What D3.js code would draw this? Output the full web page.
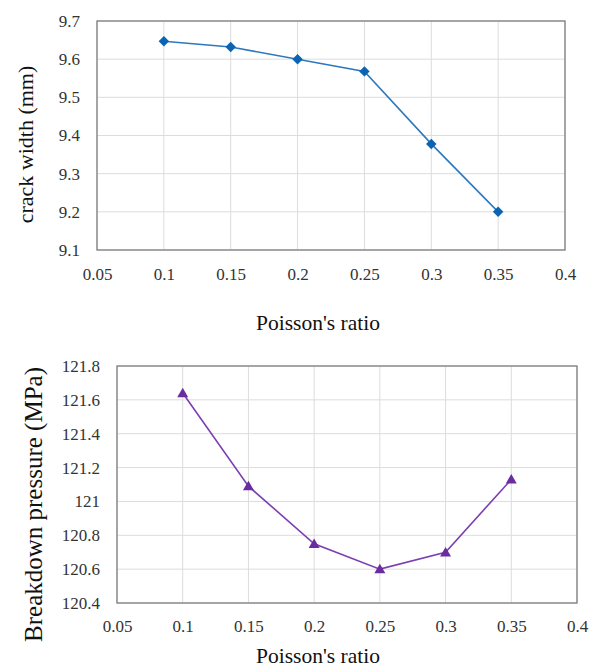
<!DOCTYPE html>
<html><head><meta charset="utf-8">
<script src="https://cdn.jsdelivr.net/npm/d3@7"></script>
<style>
body{margin:0;background:#fff}
svg{display:block}
svg text{font-family:"Liberation Serif","Times New Roman",serif}
</style>
</head><body>
<svg id="c" width="589" height="670"></svg>
<script>
const poisson = [0.1, 0.15, 0.2, 0.25, 0.3, 0.35];
const crackWidth = [9.647, 9.632, 9.6, 9.568, 9.378, 9.2];
const breakdown = [121.64, 121.09, 120.75, 120.60, 120.70, 121.13];
const xTicks = [0.05, 0.1, 0.15, 0.2, 0.25, 0.3, 0.35, 0.4];
const yTicksTop = [9.1, 9.2, 9.3, 9.4, 9.5, 9.6, 9.7];
const yTicksBot = [120.4, 120.6, 120.8, 121, 121.2, 121.4, 121.6, 121.8];

const svg = d3.select("#c");
const serifFace = "Liberation Serif";

function panel(o) {
  const x = d3.scaleLinear().domain([0.05, 0.4]).range([o.left, o.right]);
  const y = d3.scaleLinear().domain(o.yDomain).range([o.bottom, o.top]);
  const g = svg.append("g");
  g.append("g").selectAll("line").data(o.yTicks).join("line")
    .attr("x1", o.left).attr("x2", o.right)
    .attr("y1", d => y(d)).attr("y2", d => y(d))
    .attr("stroke", "#dcdcdc").attr("stroke-width", 1);
  g.append("g").selectAll("line").data(xTicks).join("line")
    .attr("y1", o.top).attr("y2", o.bottom)
    .attr("x1", d => x(d)).attr("x2", d => x(d))
    .attr("stroke", "#dcdcdc").attr("stroke-width", 1);
  g.append("rect").attr("x", o.left).attr("y", o.top)
    .attr("width", o.right - o.left).attr("height", o.bottom - o.top)
    .attr("fill", "none").attr("stroke", "#7f7f7f").attr("stroke-width", 1.3);
  const xa = g.append("g").attr("transform", `translate(0,${o.bottom})`)
    .call(d3.axisBottom(x).tickValues(xTicks).tickSize(0).tickPadding(o.xPad).tickFormat(d3.format("")));
  const ya = g.append("g").attr("transform", `translate(${o.left},0)`)
    .call(d3.axisLeft(y).tickValues(o.yTicks).tickSize(0).tickPadding(o.yPad).tickFormat(d3.format("")));
  [xa, ya].forEach(a => {
    a.attr("font-family", serifFace).attr("font-size", 17);
    a.select(".domain").remove();
    a.selectAll("text").attr("font-family", serifFace).attr("fill", "#333");
  });
  const data = poisson.map((p, i) => [p, o.values[i]]);
  g.append("path").datum(data)
    .attr("d", d3.line().x(d => x(d[0])).y(d => y(d[1])))
    .attr("fill", "none").attr("stroke", o.lineColor).attr("stroke-width", 1.6);
  g.append("g").selectAll("path").data(data).join("path")
    .attr("transform", d => `translate(${x(d[0])},${y(d[1]) + o.symDy})`)
    .attr("d", d3.symbol().type(o.symbol).size(o.symSize))
    .attr("fill", o.markColor);
  svg.append("text").attr("x", (o.left + o.right) / 2 + o.xtDx).attr("y", o.xTitleY)
    .attr("text-anchor", "middle").attr("font-family", serifFace).attr("font-size", 21.5)
    .attr("fill", "#111").text("Poisson's ratio");
  svg.append("text").attr("transform", `translate(${o.yTitleX},${(o.top + o.bottom) / 2 + o.ytDy}) rotate(-90)`)
    .attr("text-anchor", "middle").attr("font-family", serifFace).attr("font-size", o.ytSize)
    .attr("fill", "#111").text(o.yTitle);
}

panel({
  left: 97, right: 565, top: 21, bottom: 250,
  yDomain: [9.1, 9.7], yTicks: yTicksTop, values: crackWidth,
  lineColor: "#2e78bd", markColor: "#0b63b3", symbol: d3.symbolDiamond2, symSize: 70, symDy: 0,
  xPad: 18, yPad: 17, xTitleY: 330, xtDx: -13, yTitleX: 33, ytDy: 9, ytSize: 22,
  yTitle: "crack width (mm)"
});
panel({
  left: 117, right: 577, top: 366, bottom: 603,
  yDomain: [120.4, 121.8], yTicks: yTicksBot, values: breakdown,
  lineColor: "#7b3fb0", markColor: "#6a2c9f", symbol: d3.symbolTriangle, symSize: 52, symDy: 1,
  xPad: 17, yPad: 17, xTitleY: 663, xtDx: -29, yTitleX: 42, ytDy: 20, ytSize: 25,
  yTitle: "Breakdown pressure (MPa)"
});
</script>
</body></html>
